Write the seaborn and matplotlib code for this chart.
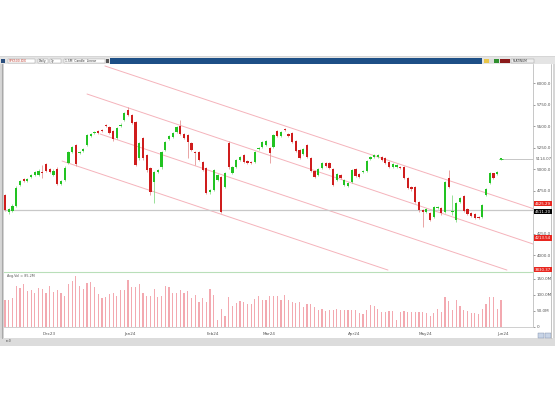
import numpy as np
import matplotlib
matplotlib.use('Agg')
import matplotlib.pyplot as plt
import matplotlib.transforms as mtransforms
from matplotlib.patches import Rectangle
import seaborn as sns

# ── data (daily OHLC + volume) ──────────────────────────────────────
opens = [4700, 4500, 4512, 4570, 4814, 4884, 4860, 4907, 4930, 4930,
         4965, 5058, 5000, 4930, 5000, 4826, 4872, 5070, 5198, 5279,
         5186, 5209, 5279, 5384, 5419, 5442, 5453, 5512, 5488, 5442,
         5360, 5500, 5570, 5686, 5628, 5546, 5128, 5360, 5163, 5012,
         4849, 4965, 5023, 5221, 5349, 5372, 5430, 5500, 5407, 5395,
         5302, 5198, 5198, 5081, 5012, 4732, 4756, 4872, 4907, 4791,
         5302, 4954, 5023, 5105, 5163, 5093, 5081, 5081, 5233, 5256,
         5279, 5244, 5256, 5442, 5384, 5465, 5407, 5419, 5326, 5221,
         5174, 5279, 5128, 4977, 4930, 5012, 5070, 5070, 5000, 4872,
         4930, 4814, 4802, 4849, 5000, 4942, 4965, 4977, 5116, 5140,
         5140, 5140, 5128, 5081, 5023, 5023, 5023, 5023, 4895, 4791,
         4791, 4616, 4523, 4500, 4488, 4442, 4546, 4546, 4500, 4895,
         4500, 4407, 4616, 4686, 4535, 4488, 4477, 4442, 4442, 4698,
         4837, 4954, 4942, 5114]
closes = [4525, 4535, 4570, 4779, 4860, 4860, 4884, 4930, 4965, 4977,
          4954, 4977, 4965, 4977, 4826, 4860, 5012, 5198, 5256, 5058,
          5198, 5233, 5395, 5407, 5430, 5419, 5442, 5500, 5419, 5349,
          5477, 5512, 5651, 5628, 5535, 5047, 5302, 5128, 4988, 4732,
          4965, 4988, 5198, 5314, 5384, 5419, 5488, 5407, 5360, 5314,
          5221, 5186, 5105, 4988, 4721, 4756, 4988, 4930, 4500, 4954,
          5023, 5023, 5105, 5140, 5081, 5070, 5070, 5198, 5244, 5314,
          5326, 5186, 5395, 5384, 5430, 5453, 5384, 5314, 5209, 5128,
          5233, 5140, 4977, 4907, 5000, 5070, 5035, 5012, 4814, 4942,
          4895, 4872, 4837, 4988, 4919, 4907, 4977, 5093, 5140, 5163,
          5163, 5105, 5070, 5023, 5058, 5047, 5012, 4895, 4779, 4767,
          4616, 4523, 4500, 4535, 4407, 4558, 4558, 4488, 4849, 4791,
          4505, 4605, 4663, 4512, 4477, 4453, 4430, 4432, 4581, 4767,
          4954, 4895, 4965, 5116]
highs = [4715, 4550, 4590, 4800, 4875, 4900, 4900, 4945, 4980, 4995,
         5047, 5075, 5015, 4995, 5020, 4875, 5030, 5215, 5270, 5290,
         5210, 5245, 5410, 5420, 5445, 5455, 5465, 5525, 5500, 5455,
         5490, 5530, 5665, 5720, 5640, 5560, 5315, 5375, 5175, 5025,
         4980, 5000, 5210, 5325, 5395, 5430, 5500, 5570, 5420, 5405,
         5315, 5210, 5215, 5095, 5025, 4770, 5000, 4945, 4920, 4965,
         5320, 5035, 5115, 5155, 5175, 5105, 5095, 5210, 5255, 5325,
         5340, 5255, 5410, 5455, 5445, 5480, 5420, 5430, 5340, 5235,
         5245, 5290, 5140, 4990, 5015, 5085, 5085, 5085, 5015, 4955,
         4945, 4885, 4850, 5000, 5015, 4955, 4990, 5105, 5155, 5175,
         5175, 5155, 5140, 5095, 5070, 5060, 5035, 5035, 4910, 4805,
         4805, 4630, 4540, 4550, 4505, 4575, 4570, 4560, 4865, 4990,
         4700, 4620, 4680, 4700, 4550, 4500, 4490, 4455, 4595, 4780,
         4965, 4955, 4978, 5130]
lows = [4510, 4480, 4495, 4555, 4800, 4845, 4845, 4893, 4915, 4915,
        4900, 4960, 4950, 4915, 4810, 4810, 4855, 5055, 5185, 5040,
        5170, 5195, 5265, 5370, 5405, 5405, 5430, 5485, 5405, 5330,
        5345, 5485, 5555, 5615, 5520, 5030, 5110, 5110, 4970, 4700,
        4600, 4950, 5005, 5205, 5335, 5360, 5415, 5390, 5345, 5128,
        5205, 5047, 5090, 4975, 4705, 4715, 4740, 4855, 4490, 4775,
        5005, 4940, 5010, 5090, 5065, 5055, 5055, 5065, 5220, 5240,
        5265, 5070, 5240, 5370, 5370, 5440, 5370, 5300, 5195, 5115,
        5160, 5125, 4960, 4893, 4915, 4995, 5020, 4995, 4800, 4858,
        4880, 4800, 4788, 4835, 4905, 4893, 4950, 4960, 5100, 5125,
        5125, 5090, 5055, 5008, 5008, 5008, 4998, 4880, 4765, 4750,
        4600, 4505, 4325, 4485, 4390, 4425, 4530, 4470, 4485, 4775,
        4465, 4380, 4600, 4495, 4460, 4438, 4415, 4418, 4425, 4683,
        4820, 4880, 4928, 5100]
volume_m = [85,
            83, 89, 127, 120, 133, 112, 115, 107, 122, 118, 107, 127, 109, 115, 107, 97, 135, 143, 158, 127,
            118, 137, 139, 123, 104, 91, 94, 102, 107, 96, 115, 115, 146, 125, 125, 135, 107, 97, 97, 118,
            94, 97, 127, 123, 107, 107, 115, 107, 112, 91, 99, 78, 89, 78, 118, 99, 21, 57, 33, 94,
            65, 75, 81, 78, 70, 73, 86, 96, 83, 83, 97, 97, 97,
            85, 99, 85, 78, 75, 78, 62, 71, 71, 62, 54, 57, 50, 52, 54, 57, 52, 52, 52, 54,
            54, 42, 40, 54, 68, 65, 57, 47, 47, 49, 49, 21, 47, 49, 47, 47, 47, 47, 47, 42,
            34, 44, 57, 47, 94, 80, 54, 83, 65, 52, 50, 42, 42, 40, 57, 71, 92, 92, 57, 83]

month_pos = [10, 32, 54, 69, 92, 111, 132]
month_labels = ['Dec23', 'Jan24', 'Feb24', 'Mar24', 'Apr24', 'May24', 'Jun24']
price_ticks = [4000, 4250, 4500, 4750, 5000, 5250, 5500, 5750, 6000]
vol_ticks = [0, 50, 100, 150]
vol_tick_labels = ['0', '50.0M', '100.0M', '150.0M']

# trend channel lines: (start index, end index) / (start price, end price)
channel_x = [[26.8, 141.6], [22.0, 141.6], [25.5, 134.6], [15.3, 102.7]]
channel_y = [[6198, 4540], [5872, 4128], [5407, 3825], [5093, 3825]]
channel_tags = [(4598, '4625.29'), (4200, '4213.54'), (3830, '3830.37')]
ref_level = 4520
ref_tag = '4511.20'
last_price = 5114.07

# ── style ───────────────────────────────────────────────────
sns.set_style('white')
GREEN = '#22c322'
RED = '#cf1d1d'
PINK = '#f5b3bb'
VOLC = '#f3a9b0'
W, H = 555, 400

fig = plt.figure(figsize=(W / 100, H / 100), dpi=100)


def px_axes(x0, y0, x1, y1, **kw):
    return fig.add_axes([x0 / W, 1 - y1 / H, (x1 - x0) / W, (y1 - y0) / H], **kw)


# window chrome in pixel space
bg = px_axes(0, 0, W, H)
bg.set_xlim(0, W)
bg.set_ylim(H, 0)
bg.axis('off')
bg.add_patch(Rectangle((0, 56), W, 290, facecolor='#d6d6d6', edgecolor='none'))
bg.add_patch(Rectangle((4, 64), 549, 274, facecolor='white', edgecolor='none'))
bg.add_patch(Rectangle((0, 57), W, 7, facecolor='#e4e4e4', edgecolor='none'))
bg.add_patch(Rectangle((110, 58.3), 372, 5.2, facecolor='#1d4f86', edgecolor='none'))
for x0, w, txt, col in [(8, 27, 'SPX500.IDX', '#c0392b'), (38, 10, 'Daily', '#333'),
                        (50, 11, '1y', '#333'), (64, 41, '1.5M  Candle  Linear  ', '#333')]:
    bg.add_patch(Rectangle((x0, 58.6), w, 4.6, facecolor='white', edgecolor='#9a9a9a', lw=0.3))
    bg.text(x0 + 1, 61, txt, fontsize=2.2, color=col, va='center')
bg.add_patch(Rectangle((1, 58.6), 4, 4.6, facecolor='#2b4f7e', edgecolor='none'))
bg.add_patch(Rectangle((105.5, 58.8), 3.5, 4.2, facecolor='#555', edgecolor='none'))
for x0, col in [(484, '#e8c547'), (489, '#dddddd'), (494, '#2f8f2f'), (500, '#8b1a1a'), (505, '#8b1a1a')]:
    bg.add_patch(Rectangle((x0, 58.6), 4.5, 4.6, facecolor=col, edgecolor='none'))
bg.add_patch(Rectangle((511, 58.6), 23, 4.6, facecolor='#eeeeee', edgecolor='#9a9a9a', lw=0.3))
bg.text(512.5, 61, 'PLATINUM', fontsize=2.2, color='#333', va='center')
bg.plot([2, 2], [64, 338], color='#a9a9a9', lw=0.8)
bg.plot([551, 551], [64, 338], color='#b9b9b9', lw=0.6)
bg.add_patch(Rectangle((0, 338), W, 8, facecolor='#dcdcdc', edgecolor='none'))
bg.add_patch(Rectangle((538, 333), 6, 5, facecolor='#c8d4e6', edgecolor='#7a8aa8', lw=0.3))
bg.add_patch(Rectangle((545, 333), 6, 5, facecolor='#c8d4e6', edgecolor='#7a8aa8', lw=0.3))
bg.text(6, 341.5, 'r=0', fontsize=2.2, color='#444', va='center')

# ── price panel ─────────────────────────────────────────────
idx = np.arange(len(opens))
step = 3.729
x_lo = (4 - 5) / step
x_hi = (533 - 5) / step

ax_p = px_axes(4, 64, 533, 271)
ax_p.set_facecolor('none')
o = np.array(opens)
c = np.array(closes)
up = c >= o
body_col = np.where(up, GREEN, RED)
wick_col = np.where(up, '#7fd87f', '#e38b8b')
ax_p.vlines(idx, lows, highs, colors=wick_col, lw=0.55, zorder=2)
ax_p.bar(idx, np.maximum(np.abs(c - o), 9), bottom=np.minimum(o, c), width=0.6,
         color=body_col, linewidth=0, zorder=3)
ax_p.hlines(last_price, idx[-1] - 0.6, idx[-1] + 0.6, colors=GREEN, lw=0.6, zorder=3)

for xs, ys in zip(channel_x, channel_y):
    ax_p.plot(xs, ys, color=PINK, lw=0.7, zorder=1)
ax_p.axhline(ref_level, color='#c8c8c8', lw=0.9, zorder=1)
ax_p.hlines(last_price, idx[-1], x_hi, colors='#bdbdbd', lw=0.6, zorder=1)

ax_p.set_xlim(x_lo, x_hi)
ax_p.set_ylim(3814, 6221)
ax_p.yaxis.tick_right()
ax_p.set_yticks(price_ticks)
ax_p.set_yticklabels([f'{t}.0' for t in price_ticks])
ax_p.tick_params(axis='y', labelsize=3, colors='#555', length=1.5, width=0.4, pad=1)
ax_p.set_xticks([])
for s in ['top', 'bottom', 'left']:
    ax_p.spines[s].set_visible(False)
ax_p.spines['right'].set_color('#b0b0b0')
ax_p.spines['right'].set_linewidth(0.5)

blend = mtransforms.blended_transform_factory(ax_p.transAxes, ax_p.transData)
for val, txt in channel_tags:
    ax_p.text(1.004, val, txt, transform=blend, fontsize=2.8, color='white', va='center',
              ha='left', zorder=10, clip_on=False,
              bbox=dict(facecolor='#e8261f', edgecolor='none', pad=0.5))
ax_p.text(1.004, ref_level - 15, ref_tag, transform=blend, fontsize=2.8, color='white',
          va='center', ha='left', zorder=10, clip_on=False,
          bbox=dict(facecolor='black', edgecolor='none', pad=0.5))
ax_p.text(1.006, last_price, f'{last_price:.2f}', transform=blend, fontsize=2.8,
          color='#555', va='center', ha='left', clip_on=False)

# ── volume panel ────────────────────────────────────────────
ax_v = px_axes(4, 272, 533, 327)
sns.barplot(x=idx, y=volume_m, native_scale=True, color=VOLC, saturation=1,
            width=0.32, errorbar=None, linewidth=0, ax=ax_v)
ax_v.set_xlim(x_lo, x_hi)
ax_v.set_ylim(0, 171)
ax_v.set_xlabel('')
ax_v.set_ylabel('')
ax_v.yaxis.tick_right()
ax_v.set_yticks(vol_ticks)
ax_v.set_yticklabels(vol_tick_labels)
ax_v.tick_params(axis='y', labelsize=3, colors='#555', length=1.5, width=0.4, pad=1)
ax_v.set_xticks(month_pos)
ax_v.set_xticklabels(month_labels, ha='left')
ax_v.tick_params(axis='x', labelsize=3, colors='#555', length=3, width=0.4, pad=0.5)
for s in ['left']:
    ax_v.spines[s].set_visible(False)
ax_v.spines['top'].set_color('#b9dfb9')
ax_v.spines['top'].set_linewidth(0.8)
ax_v.spines['bottom'].set_color('#c8c8c8')
ax_v.spines['bottom'].set_linewidth(0.6)
ax_v.spines['right'].set_color('#b0b0b0')
ax_v.spines['right'].set_linewidth(0.5)
ax_v.text(0.006, 0.93, 'Avg.Vol = 85.2M', transform=ax_v.transAxes, fontsize=2.4,
          color='#555', va='center')

fig.savefig('out.png', dpi=100)
plt.close(fig)
